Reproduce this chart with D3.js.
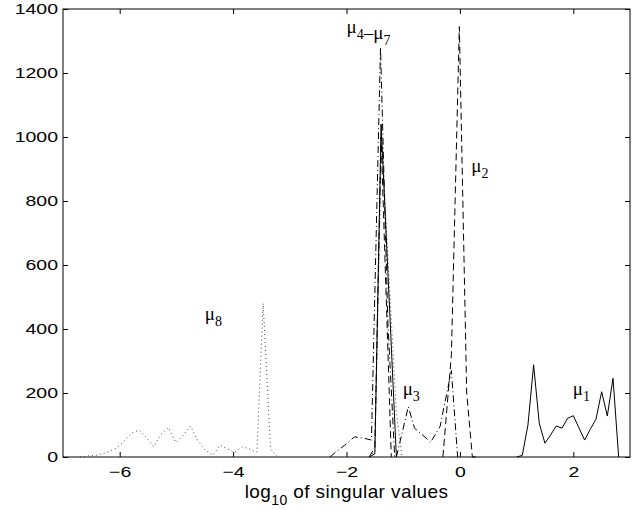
<!DOCTYPE html>
<html>
<head>
<meta charset="utf-8">
<script src="https://cdn.jsdelivr.net/npm/d3@7"></script>
<style>
  body { margin: 0; background: #fff; }
</style>
</head>
<body>
<svg id="chart"></svg>
<script>
// size of the page and the plot box
const width = 636, height = 510;
const margin = {top: 9, bottom: 53, left: 63, right: 6};

// tick values
const xTicks = [-6, -4, -2, 0, 2];
const yTicks = [0, 200, 400, 600, 800, 1000, 1200, 1400];

// mu1 - solid, right side
const mu1X = [1.0, 1.1, 1.2, 1.3, 1.4, 1.5, 1.6, 1.7, 1.8, 1.9, 2.0, 2.1, 2.2, 2.3, 2.4, 2.5, 2.6, 2.7, 2.8];
const mu1Y = [0, 5, 100, 288, 105, 43, 69, 97, 90, 121, 129, 91, 53, 87, 118, 204, 128, 246, 0];

// mu2 - dashed, tall peak at 0
const mu2X = [-0.3, -0.15, -0.01, 0.12, 0.22, 0.3];
const mu2Y = [0, 320, 1345, 200, 0, 0];

// mu3 - dash-dot
const mu3X = [-1.12, -0.91, -0.8, -0.62, -0.52, -0.35, -0.15, -0.04];
const mu3Y = [0, 157, 90, 63, 45, 95, 270, 0];

// mu4..mu7 - the cluster around -1.4
const mu4X = [-1.6, -1.5, -1.39, -1.12];
const mu4Y = [0, 10, 1040, 0];
const mu5X = [-1.6, -1.5, -1.39, -1.21];
const mu5Y = [0, 30, 1000, 0];
const mu6X = [-2.29, -2.18, -2.03, -1.86, -1.68, -1.56, -1.40, -1.27, -1.15];
const mu6Y = [0, 17, 37, 63, 58, 53, 1280, 420, 0];
const mu7X = [-1.6, -1.5, -1.38, -1.25, -1.12, -1.02];
const mu7Y = [0, 20, 1000, 560, 137, 0];

// mu8 - dotted, far left
const mu8X = [-6.7, -6.57, -6.44, -6.31, -6.18, -6.05, -5.92, -5.79, -5.66, -5.53, -5.40, -5.27, -5.14, -5.01, -4.88, -4.75, -4.62, -4.49, -4.36, -4.23, -4.10, -3.97, -3.84, -3.71, -3.58, -3.47, -3.34, -3.21];
const mu8Y = [0, 3, 5, 10, 18, 28, 50, 75, 84, 61, 32, 72, 92, 45, 68, 97, 50, 22, 5, 37, 25, 15, 32, 25, 15, 480, 25, 0];

const svg = d3.select("#chart")
    .attr("width", width)
    .attr("height", height)
    .style("background", "#ffffff");

const xScale = d3.scaleLinear()
    .domain([-7, 3])
    .range([margin.left, width - margin.right]);

const yScale = d3.scaleLinear()
    .domain([0, 1400])
    .range([height - margin.bottom, margin.top]);

const tickFont = "'Liberation Sans', Arial, Helvetica, sans-serif";
const greekFont = "'Liberation Serif', 'Times New Roman', serif";

// ticks pointing inward on all four sides
const xAxis = svg.append("g")
    .attr("transform", `translate(0,${height - margin.bottom})`)
    .call(d3.axisBottom(xScale).tickValues(xTicks).tickSizeInner(-5).tickSizeOuter(0).tickPadding(9));

const yAxis = svg.append("g")
    .attr("transform", `translate(${margin.left},0)`)
    .call(d3.axisLeft(yScale).tickValues(yTicks).tickFormat(d3.format("d")).tickSizeInner(-5).tickSizeOuter(0).tickPadding(5));

svg.append("g")
    .attr("transform", `translate(0,${margin.top})`)
    .call(d3.axisTop(xScale).tickValues(xTicks).tickSizeInner(-5).tickSizeOuter(0).tickFormat(""));

svg.append("g")
    .attr("transform", `translate(${width - margin.right},0)`)
    .call(d3.axisRight(yScale).tickValues(yTicks).tickSizeInner(-5).tickSizeOuter(0).tickFormat(""));

svg.selectAll(".domain").remove();
svg.selectAll(".tick line").attr("stroke", "#000");

// tick labels look wide in the original, so stretch them a bit
xAxis.selectAll("text")
    .attr("font-family", tickFont)
    .attr("font-size", 15)
    .attr("fill", "#000")
    .attr("transform", "scale(1.3,1)");

yAxis.selectAll("text")
    .attr("font-family", tickFont)
    .attr("font-size", 15)
    .attr("fill", "#000")
    .attr("x", -5 / 1.3)
    .attr("transform", "scale(1.3,1)");

// box
svg.append("rect")
    .attr("x", margin.left)
    .attr("y", margin.top)
    .attr("width", width - margin.left - margin.right)
    .attr("height", height - margin.top - margin.bottom)
    .attr("fill", "none")
    .attr("stroke", "#000")
    .attr("stroke-width", 1);

// x label
const xlab = svg.append("text")
    .attr("x", (margin.left + width - margin.right) / 2)
    .attr("y", 498)
    .attr("text-anchor", "middle")
    .attr("font-family", tickFont)
    .attr("font-size", 19)
    .attr("letter-spacing", 0.4)
    .attr("fill", "#000");
xlab.append("tspan").text("log");
xlab.append("tspan").attr("font-size", 14).attr("dy", 7).text("10");
xlab.append("tspan").attr("dy", -7).text(" of singular values");

// the lines
const line = d3.line()
    .x(d => xScale(d[0]))
    .y(d => yScale(d[1]));

const series = [
    {x: mu8X, y: mu8Y, dash: "1,3", color: "#444"},
    {x: mu6X, y: mu6Y, dash: "7,3,1,3", color: "#000"},
    {x: mu7X, y: mu7Y, dash: "1,3", color: "#444"},
    {x: mu5X, y: mu5Y, dash: "7,4", color: "#000"},
    {x: mu4X, y: mu4Y, dash: null, color: "#000"},
    {x: mu3X, y: mu3Y, dash: "7,3,1,3", color: "#000"},
    {x: mu2X, y: mu2Y, dash: "7,4", color: "#000"},
    {x: mu1X, y: mu1Y, dash: null, color: "#000"}
];

series.forEach(s => {
    svg.append("path")
        .datum(s.x.map((v, i) => [v, s.y[i]]))
        .attr("fill", "none")
        .attr("stroke", s.color)
        .attr("stroke-width", 1)
        .attr("stroke-dasharray", s.dash)
        .attr("d", line);
});

// mu labels, placed in data units
function muLabel(xv, yv, parts) {
    const t = svg.append("text")
        .attr("x", xScale(xv))
        .attr("y", yScale(yv))
        .attr("font-family", greekFont)
        .attr("font-size", 19)
        .attr("fill", "#000");
    parts.forEach(p => {
        t.append("tspan").text(p[0]);
        t.append("tspan").attr("font-size", 14).attr("dy", 6).text(p[1]);
        t.append("tspan").attr("dy", -6).text("");
    });
}

muLabel(-2.0, 1325, [["\u03bc", "4"], ["\u2013\u03bc", "7"]]);
muLabel(0.2, 890, [["\u03bc", "2"]]);
muLabel(-4.5, 428, [["\u03bc", "8"]]);
muLabel(-1.01, 194, [["\u03bc", "3"]]);
muLabel(1.99, 194, [["\u03bc", "1"]]);
</script>
</body>
</html>
